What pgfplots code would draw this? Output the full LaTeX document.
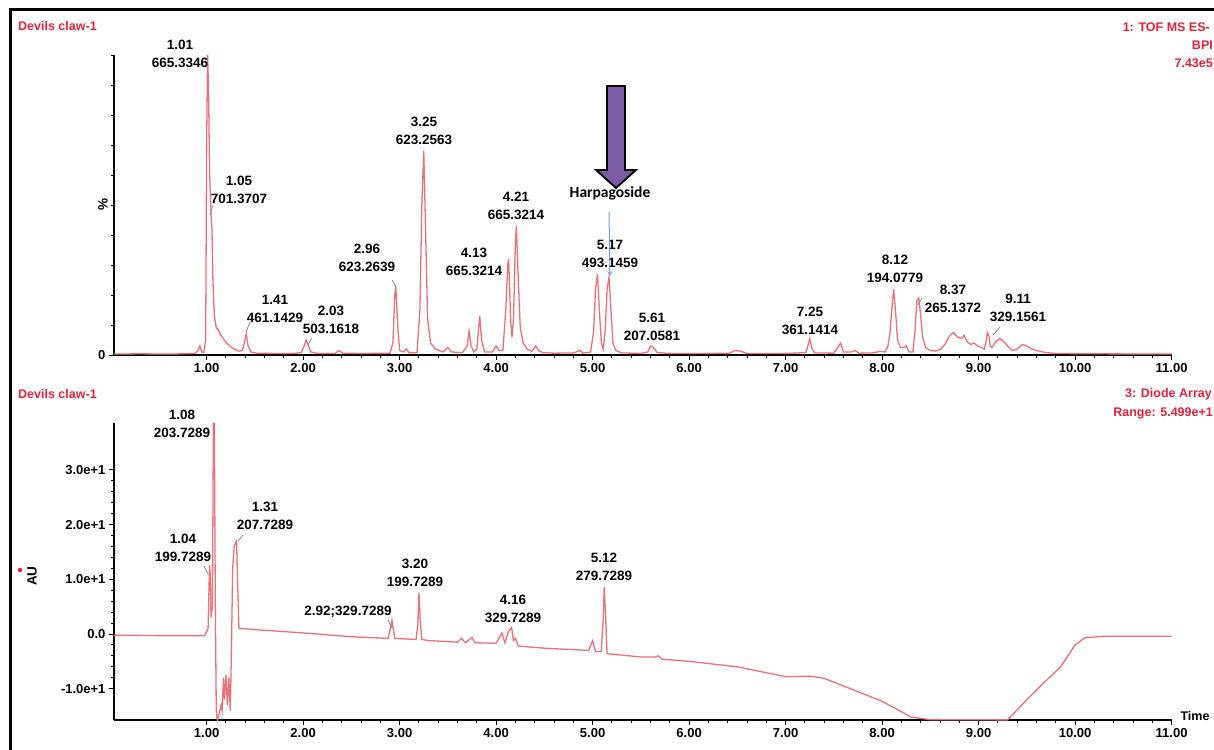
\documentclass[border=0pt]{standalone}
\usepackage{fontspec}
\setmainfont{Liberation Sans}
\newfontfamily\harpfont{Carlito}
\usepackage{pgfplots}
\pgfplotsset{compat=1.18}
\definecolor{trace}{RGB}{234,112,122}
\definecolor{ttl}{RGB}{222,35,60}
\definecolor{purp}{RGB}{125,92,165}
\definecolor{blu}{RGB}{120,160,215}
\pgfplotsset{
  chrom/.style={
    scale only axis, width=1057.6pt, xmin=0.04, xmax=11.0,
    axis x line=bottom, axis y line=left,
    axis line style={line width=1.6pt,-},
    every tick/.style={black, line width=0.9pt},
    tick align=outside, major tick length=5pt, minor tick length=3pt,
    xtick={1,2,3,4,5,6,7,8,9,10,11},
    xticklabels={1.00,2.00,3.00,4.00,5.00,6.00,7.00,8.00,9.00,10.00,11.00},
    minor x tick num=4,
    /pgf/number format/assume math mode=true,
    tick label style={font=\bfseries\fontsize{13}{15}\selectfont},
    clip=false,
  }
}
\begin{document}
\begin{tikzpicture}
\useasboundingbox (0,0) rectangle (1214pt,749pt);
% ---------- top: TOF MS BPI ----------
\begin{axis}[chrom, at={(114pt,394pt)}, anchor=south west,
  height=300pt, ymin=0, ymax=100,
  ytick={0}, yticklabels={0}, minor ytick={10,20,30,40,50,60,70,80,90,100}]
\addplot[trace, line width=1.3pt] coordinates {
(0.04,0.3) (0.3,0.4) (0.6,0.3) (0.88,0.5) (0.91,1.5) (0.93,3) (0.95,1) (0.97,0.8) (0.99,5) (1.00,70) (1.01,100) (1.02,88) (1.03,62) (1.045,47) (1.055,42) (1.065,25) (1.08,13) (1.10,9) (1.12,8.5) (1.14,7) (1.17,5.5) (1.20,4.2) (1.24,3) (1.28,2) (1.33,1.3) (1.37,1.5) (1.39,4) (1.41,7) (1.43,3) (1.46,1) (1.52,0.6) (1.7,0.5) (1.9,0.5) (1.98,0.8) (2.01,3) (2.03,5) (2.05,3.5) (2.08,1) (2.15,0.5) (2.33,0.5) (2.37,1.5) (2.41,0.6) (2.6,0.5) (2.9,0.6) (2.93,4) (2.95,20) (2.96,23) (2.98,10) (3.00,1.5) (3.04,1) (3.07,2) (3.10,0.7) (3.18,0.8) (3.21,15) (3.23,50) (3.25,68) (3.27,40) (3.29,12) (3.32,4) (3.37,2) (3.45,1) (3.50,2.5) (3.54,1) (3.65,0.8) (3.70,3) (3.72,8) (3.74,3) (3.77,1) (3.80,2) (3.83,13) (3.85,5) (3.88,1) (3.96,1) (4.00,3) (4.03,1.5) (4.07,1.5) (4.10,15) (4.12,30) (4.13,32) (4.15,12) (4.165,6) (4.18,12) (4.20,38) (4.21,43) (4.23,25) (4.25,9) (4.28,4) (4.32,2) (4.37,1.2) (4.41,3) (4.44,1.5) (4.48,0.8) (4.6,0.6) (4.8,0.7) (4.87,1.5) (4.90,0.6) (4.98,1) (5.01,8) (5.03,22) (5.05,27) (5.07,15) (5.09,4) (5.11,2) (5.13,8) (5.15,22) (5.17,26) (5.19,15) (5.21,4) (5.24,1.5) (5.30,0.7) (5.5,0.5) (5.57,1) (5.60,3) (5.63,2.5) (5.67,0.8) (5.8,0.5) (6.2,0.5) (6.42,0.6) (6.47,1.5) (6.53,1.3) (6.6,0.5) (7.0,0.5) (7.21,0.8) (7.23,3) (7.25,5.5) (7.27,2.5) (7.30,0.7) (7.5,0.6) (7.55,3) (7.57,4) (7.60,1) (7.68,1) (7.72,1.5) (7.76,0.6) (7.9,0.7) (7.98,1.2) (8.03,1) (8.06,3) (8.08,7) (8.10,15) (8.12,22) (8.14,14) (8.16,5) (8.19,2.5) (8.22,2.5) (8.25,3) (8.28,1) (8.32,1) (8.34,8) (8.36,18) (8.38,19) (8.40,13) (8.42,6) (8.45,2.5) (8.5,1.5) (8.55,1.3) (8.60,1.8) (8.65,3.5) (8.70,6.5) (8.74,7.5) (8.78,6) (8.82,5.5) (8.85,6.5) (8.88,4.5) (8.92,3.5) (8.95,4) (8.99,3) (9.03,2.5) (9.06,2) (9.08,5) (9.09,7.5) (9.11,6) (9.12,3) (9.14,2.5) (9.18,4.5) (9.22,5.5) (9.26,4.5) (9.30,3) (9.35,1.5) (9.40,2) (9.45,3.5) (9.50,3) (9.55,2) (9.62,1.3) (9.7,0.8) (9.8,0.5) (10.2,0.4) (11.0,0.3)
};
\end{axis}
% ---------- bottom: Diode array ----------
\begin{axis}[chrom, at={(114pt,29pt)}, anchor=south west,
  height=297pt, ymin=-15.72, ymax=38.57,
  ytick={-10,0,10,20,30}, yticklabels={-1.0e+1,0.0,1.0e+1,2.0e+1,3.0e+1},
  minor y tick num=4]
\addplot[trace, line width=1.3pt] coordinates {
(0.04,-0.2) (0.5,-0.3) (0.98,-0.3) (1.015,1) (1.03,12.6) (1.04,10) (1.045,3) (1.06,5) (1.07,38.5) (1.08,38.5) (1.09,5) (1.10,-14) (1.11,-15.7) (1.13,-14.5) (1.15,-13) (1.16,-14) (1.175,-8) (1.185,-12) (1.20,-7.5) (1.215,-13) (1.23,-8) (1.245,-14) (1.255,-5) (1.27,12) (1.285,16) (1.31,17) (1.32,10) (1.335,1) (1.37,1) (1.5,0.8) (2.0,0.2) (2.5,-0.5) (2.88,-0.8) (2.91,1.5) (2.92,2.5) (2.95,-0.8) (3.17,-1) (3.19,2) (3.20,7.5) (3.215,2) (3.23,-1) (3.30,-1.2) (3.6,-1.5) (3.64,-0.8) (3.68,-1.6) (3.75,-0.6) (3.78,-1.6) (4.0,-1.7) (4.06,0.2) (4.09,-1.6) (4.13,0.5) (4.16,1.2) (4.18,-1.2) (4.20,-0.8) (4.23,-2.2) (4.5,-2.6) (4.96,-3) (5.00,-1.2) (5.03,-3.2) (5.09,-3.2) (5.11,3) (5.12,8.6) (5.135,3) (5.15,-3.6) (5.5,-4.2) (5.65,-4.2) (5.68,-4.0) (5.72,-4.6) (6.0,-5) (6.5,-6) (7.0,-7.8) (7.25,-7.7) (7.4,-8.1) (7.6,-9.5) (8.0,-12.3) (8.2,-14.2) (8.3,-15.2) (8.5,-15.65) (9.3,-15.7) (9.5,-12) (9.7,-8.5) (9.85,-6) (10.0,-2) (10.1,-0.7) (10.3,-0.4) (11.0,-0.4)
};
\end{axis}
% ---------- annotations (pixel coordinates, y downward) ----------
\begin{scope}[x=1pt, y=-1pt, shift={(0pt,749pt)},
  lab/.style={align=center, inner sep=0pt, font=\bfseries\fontsize{13.5}{18.5}\selectfont},
  red/.style={text=ttl, inner sep=0pt, font=\bfseries\fontsize{12.5}{14}\selectfont}]
\draw[line width=3pt] (10,760) -- (10,10) -- (1225,10);
% top labels
\node[lab] at (180,54) {1.01\\665.3346};
\node[lab] at (239,190) {1.05\\701.3707};
\node[lab] at (275,309) {1.41\\461.1429};
\node[lab] at (331,320) {2.03\\503.1618};
\node[lab] at (367,258) {2.96\\623.2639};
\node[lab] at (424,131) {3.25\\623.2563};
\node[lab] at (516,206) {4.21\\665.3214};
\node[lab] at (474,262) {4.13\\665.3214};
\node[lab] at (610,254) {5.17\\493.1459};
\node[lab] at (652,327) {5.61\\207.0581};
\node[lab] at (810,321) {7.25\\361.1414};
\node[lab] at (895,269) {8.12\\194.0779};
\node[lab] at (953,299) {8.37\\265.1372};
\node[lab] at (1018,308) {9.11\\329.1561};
% leader hooks
\draw[gray, line width=0.7pt] (213,205) -- (210,215);
\draw[gray, line width=0.7pt] (250,322) -- (246,332);
\draw[gray, line width=0.7pt] (312,338) -- (308,345);
\draw[gray, line width=0.7pt] (392,280) -- (396,287);
\draw[gray, line width=0.7pt] (922,298) -- (918,305);
\draw[gray, line width=0.7pt] (1000,327) -- (993,335);
% Harpagoside
\filldraw[fill=purp, draw=black, line width=1.8pt] (607,86) -- (625,86) -- (625,170) -- (636,170) -- (616,188) -- (596,170) -- (607,170) -- cycle;
\node[inner sep=0pt, font=\harpfont\bfseries\fontsize{15.5}{17}\selectfont] at (610,193) {Harpagoside};
\draw[blu, line width=1pt, -stealth] (609,212) -- (610,276);
% bottom labels
\node[lab] at (182,424) {1.08\\203.7289};
\node[lab] at (265,516) {1.31\\207.7289};
\node[lab] at (183,548) {1.04\\199.7289};
\node[lab] at (348,612) {2.92;329.7289};
\node[lab] at (415,573) {3.20\\199.7289};
\node[lab] at (513,609) {4.16\\329.7289};
\node[lab] at (604,567) {5.12\\279.7289};
\draw[gray, line width=0.7pt] (204,566) -- (208,574);
\draw[gray, line width=0.7pt] (243,535) -- (238,541);
\draw[gray, line width=0.7pt] (388,620) -- (392,628);
% titles
\node[red, anchor=west] at (18,26) {Devils claw-1};
\node[red, anchor=east] at (1210,27) {1: TOF MS ES-};
\node[red, anchor=east] at (1213,45) {BPI};
\node[red, anchor=east] at (1213,63) {7.43e5};
\node[red, anchor=west] at (18,394) {Devils claw-1};
\node[red, anchor=east] at (1212,394) {3: Diode Array};
\node[red, anchor=east] at (1213,413) {Range: 5.499e+1};
\node[inner sep=0pt, font=\bfseries\fontsize{12.5}{14}\selectfont] at (1195,716) {Time};
\node[lab, rotate=90] at (103,205) {\%};
\node[lab, rotate=90] at (32,576) {AU};
\fill[ttl] (20,570) circle (2.2pt);
\end{scope}
\end{tikzpicture}
\end{document}
